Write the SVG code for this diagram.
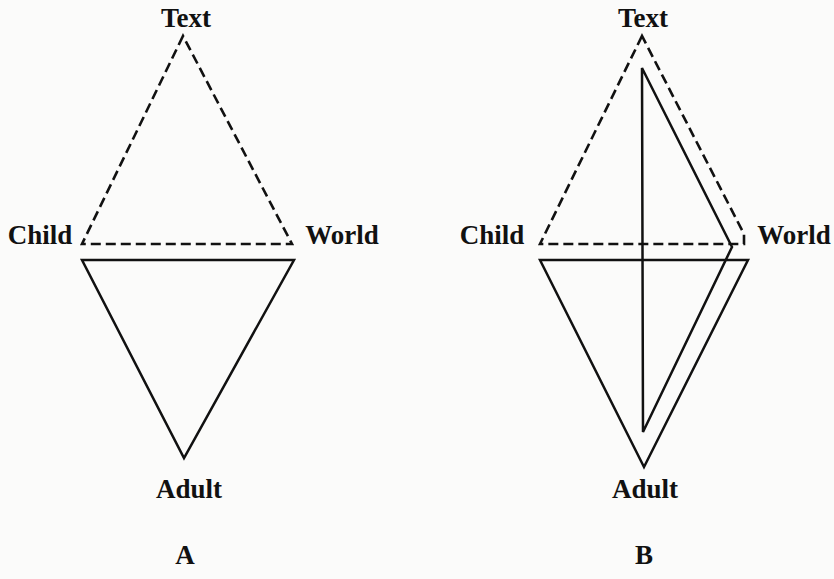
<svg xmlns="http://www.w3.org/2000/svg" width="834" height="579" viewBox="0 0 834 579">
<style>
.bg{fill:#fbfbfa}
.lbl{font-family:"Liberation Serif",serif;font-size:27px;font-weight:bold;fill:#111}
.dash{fill:none;stroke:#111;stroke-width:2.6;stroke-dasharray:10 5;stroke-linejoin:miter}
.solid{fill:none;stroke:#111;stroke-width:2.5;stroke-linejoin:miter}
</style>
<rect class="bg" x="0" y="0" width="834" height="579"/>
<g id="diagramA">
<g id="connectorsA">
<path class="dash" d="M183,36 L82,244 L292,244 Z"/>
<path class="solid" d="M82,260 L294,260 L184,458 Z"/>
</g>
<g id="A-text"><text class="lbl" x="186" y="27" text-anchor="middle">Text</text></g>
<g id="A-child"><text class="lbl" x="40" y="244" text-anchor="middle">Child</text></g>
<g id="A-world"><text class="lbl" x="342" y="244" text-anchor="middle">World</text></g>
<g id="A-adult"><text class="lbl" x="189" y="498" text-anchor="middle">Adult</text></g>
<g id="A-label"><text class="lbl" x="185" y="564" text-anchor="middle">A</text></g>
</g>
<g id="diagramB">
<g id="connectorsB">
<path class="dash" d="M642,36 L540,244 L744,244 L744,234 Z"/>
<path class="solid" d="M540,260 L748,260 L644,467 Z"/>
<path class="solid" d="M642,68 L732,247 L643,432 Z"/>
</g>
<g id="B-text"><text class="lbl" x="643" y="27" text-anchor="middle">Text</text></g>
<g id="B-child"><text class="lbl" x="492" y="244" text-anchor="middle">Child</text></g>
<g id="B-world"><text class="lbl" x="794" y="244" text-anchor="middle">World</text></g>
<g id="B-adult"><text class="lbl" x="645" y="498" text-anchor="middle">Adult</text></g>
<g id="B-label"><text class="lbl" x="644" y="564" text-anchor="middle">B</text></g>
</g>
</svg>
